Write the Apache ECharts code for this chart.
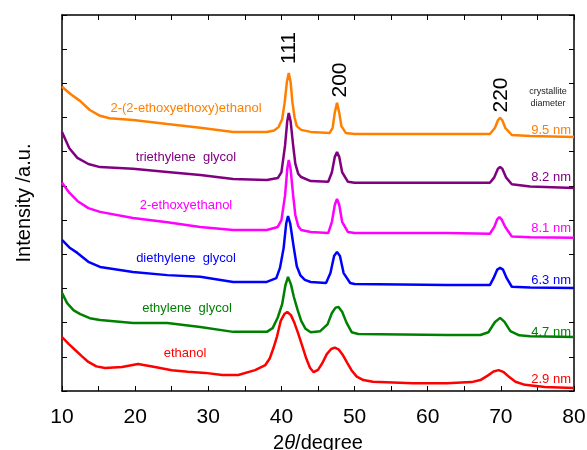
<!DOCTYPE html>
<html>
<head>
<meta charset="utf-8">
<script src="https://cdn.jsdelivr.net/npm/echarts@6/dist/echarts.min.js"></script>
<style>
  html, body { margin: 0; padding: 0; background: #fff; }
  #chart { width: 587px; height: 450px; }
</style>
</head>
<body>
<div id="chart"></div>
<script>
// XRD patterns, [2theta, intensity a.u.] (curves already offset)
const deegee = [
  [10, 890], [11.2, 868], [12.5, 848], [13.8, 822], [15.2, 805], [16.5, 798], [19.7, 793], [24.4, 781], [28.9, 770], [33.4, 758], [38.0, 758],
  [39.0, 762], [39.6, 772], [40.1, 795], [40.45, 845], [40.75, 905], [41.0, 930], [41.25, 905], [41.5, 845], [41.8, 800], [42.1, 775], [42.7, 764], [44.0, 758],
  [46.6, 755], [47.0, 770], [47.3, 815], [47.6, 843], [47.9, 815], [48.2, 775], [48.8, 755], [50.0, 752], [58.0, 752], [65.0, 752],
  [68.5, 752], [69.2, 770], [69.6, 792], [69.9, 799], [70.2, 792], [70.6, 770], [71.5, 749], [74.0, 746], [80, 743]
];
const teg = [
  [10, 758], [11.0, 710], [12.1, 682], [13.6, 664], [15.2, 655], [19.7, 650], [24.4, 641], [28.9, 632], [33.4, 620], [38.0, 617],
  [39.5, 623], [40.0, 640], [40.5, 719], [40.8, 790], [41.0, 813], [41.25, 790], [41.6, 719], [41.9, 665], [42.3, 635], [42.7, 626], [44.0, 614],
  [46.4, 612], [46.9, 640], [47.3, 685], [47.6, 699], [47.9, 685], [48.3, 640], [49.1, 612], [50.0, 609], [62.6, 609], [68.5, 609],
  [69.1, 625], [69.6, 650], [69.9, 655], [70.2, 650], [70.7, 625], [71.5, 605], [74.0, 598], [80, 594]
];
const ethoxyethanol = [
  [10, 609], [11.0, 580], [12.1, 556], [13.6, 535], [15.2, 524], [19.7, 506], [24.4, 494], [28.9, 480], [33.4, 471], [38.0, 471],
  [39.5, 480], [40.0, 500], [40.5, 573], [40.8, 650], [41.0, 676], [41.25, 650], [41.6, 573], [41.9, 515], [42.3, 482], [42.7, 471], [44.0, 465],
  [46.4, 462], [46.9, 495], [47.3, 545], [47.6, 562], [47.9, 545], [48.3, 495], [49.1, 465], [50.0, 462], [62.6, 462], [68.5, 460],
  [69.1, 480], [69.5, 502], [69.8, 509], [70.1, 502], [70.6, 480], [71.5, 452], [74.0, 450], [80, 448]
];
const deg = [
  [10, 442], [11.0, 420], [12.1, 404], [13.6, 378], [15.2, 363], [19.7, 348], [24.4, 339], [28.9, 334], [33.4, 319], [38.0, 319],
  [39.3, 330], [39.8, 360], [40.3, 418], [40.65, 490], [40.9, 512], [41.2, 490], [41.7, 418], [42.1, 365], [42.6, 338], [43.2, 325], [44.0, 319], [46.1, 316],
  [46.7, 345], [47.2, 395], [47.6, 407], [48.0, 395], [48.5, 345], [49.4, 316], [50.0, 313], [62.6, 310], [68.5, 310], [69.0, 330],
  [69.5, 355], [69.9, 360], [70.3, 355], [70.8, 330], [71.5, 305], [74.0, 303], [80, 301]
];
const eg = [
  [10, 287], [10.7, 257], [11.6, 236], [12.5, 225], [13.8, 213], [15.2, 208], [19.7, 199], [24.4, 199], [28.9, 187], [33.4, 173],
  [38.0, 173], [38.8, 184], [39.5, 215], [40.1, 254], [40.55, 310], [40.9, 334], [41.3, 312], [41.7, 275], [42.2, 238], [42.7, 205],
  [43.3, 182], [44.0, 172], [45.3, 175], [46.3, 195], [46.9, 228], [47.4, 244], [47.8, 246], [48.3, 232], [48.9, 200], [49.6, 172],
  [50.5, 167], [62.6, 164], [67.2, 164], [68.3, 172], [69.2, 202], [69.9, 214], [70.5, 202], [71.3, 175], [72.5, 163], [74.0, 160], [80, 158]
];
const ethanol = [
  [10, 158], [10.9, 138], [11.8, 120], [12.7, 102], [13.6, 85], [14.7, 72], [15.9, 67], [18.2, 70], [20.4, 79], [22.7, 70], [25.0, 61],
  [27.2, 56], [29.6, 53], [31.9, 47], [34.1, 47], [36.4, 61], [37.8, 76], [38.4, 95], [38.9, 125], [39.4, 160],
  [39.9, 205], [40.4, 225], [40.8, 231], [41.3, 222], [41.8, 198], [42.3, 168], [42.8, 135], [43.4, 95], [43.9, 68], [44.4, 55],
  [45.0, 62], [45.6, 82], [46.2, 108], [46.8, 123], [47.3, 127], [47.8, 122], [48.4, 105], [49.0, 82], [49.6, 60], [50.3, 42], [51.2, 32], [52.5, 27],
  [58.0, 23], [62.6, 23], [66.0, 26], [67.2, 32], [68.2, 45], [69.0, 57], [69.7, 61], [70.4, 55], [71.2, 40], [72.0, 27],
  [73.3, 18], [76.0, 12], [80, 9]
];

const curves = [deegee, teg, ethoxyethanol, deg, eg, ethanol];
const sampleNames = ['2-(2-ethoxyethoxy)ethanol', 'triethylene  glycol', '2-ethoxyethanol',
  'diethylene  glycol', 'ethylene  glycol', 'ethanol'];
const sizes = ['9.5 nm', '8.2 nm', '8.1 nm', '6.3 nm', '4.7 nm', '2.9 nm'];
const colors = ['#FF8000', '#800080', '#FF00FF', '#0000FF', '#008000', '#FF0000'];
const planes = ['111', '200', '220'];

const font = '"Liberation Sans", Arial, sans-serif';

// label placement (pixels)
const nameXY = [[186, 108], [186, 157], [186, 205], [186, 258], [187, 308], [185, 353]];
const sizeY = [130, 177, 228, 280, 332, 379];
const planeXY = [[289, 48], [340, 80], [501, 95]];

const chart = echarts.init(document.getElementById('chart'));

const graphic = [];
sampleNames.forEach((n, i) => {
  graphic.push({
    type: 'text', x: nameXY[i][0], y: nameXY[i][1],
    style: { text: n, fill: colors[i], font: '13px ' + font, align: 'center', verticalAlign: 'middle' }
  });
  graphic.push({
    type: 'text', x: 571, y: sizeY[i],
    style: { text: sizes[i], fill: colors[i], font: '13px ' + font, align: 'right', verticalAlign: 'middle' }
  });
});
planes.forEach((p, i) => {
  graphic.push({
    type: 'text', x: planeXY[i][0], y: planeXY[i][1], rotation: Math.PI / 2,
    style: { text: p, fill: '#000', font: '21px ' + font, align: 'center', verticalAlign: 'middle' }
  });
});
graphic.push({
  type: 'text', x: 548, y: 98,
  style: { text: 'crystallite\ndiameter', fill: '#222', font: '9px ' + font, align: 'center', verticalAlign: 'middle', lineHeight: 12 }
});

const axisLine = { show: true, onZero: false, lineStyle: { color: '#000', width: 1.5 } };
const tick = { show: true, inside: true, length: 5, lineStyle: { color: '#000', width: 1 } };

const option = {
  backgroundColor: '#fff',
  animation: false,
  grid: { left: 62, right: 13, top: 15, bottom: 59, outerBoundsMode: 'none', containLabel: false },
  xAxis: [
    {
      type: 'value', min: 10, max: 80, interval: 5, position: 'bottom',
      axisLine, axisTick: tick, splitLine: { show: false },
      axisLabel: {
        color: '#000', fontSize: 21, fontFamily: font, margin: 16,
        formatter: v => (v % 10 === 0 ? String(v) : '')
      },
      name: '{n|2}{t|θ}{n|/degree}', nameLocation: 'middle', nameGap: 42,
      nameTextStyle: {
        rich: {
          n: { fontSize: 20, fontFamily: font, color: '#000' },
          t: { fontSize: 20, fontFamily: font, fontStyle: 'italic', color: '#000' }
        }
      }
    },
    {
      type: 'value', min: 10, max: 80, interval: 5, position: 'top',
      axisLine, axisTick: tick, axisLabel: { show: false }, splitLine: { show: false }
    }
  ],
  yAxis: [
    {
      type: 'value', min: 0, max: 1100, interval: 100, position: 'left',
      axisLine, axisTick: tick, axisLabel: { show: false }, splitLine: { show: false },
      name: 'Intensity /a.u.', nameLocation: 'middle', nameGap: 28,
      nameTextStyle: { fontSize: 20, fontFamily: font, color: '#000' }
    },
    {
      type: 'value', min: 0, max: 1100, interval: 100, position: 'right',
      axisLine, axisTick: tick, axisLabel: { show: false }, splitLine: { show: false }
    }
  ],
  series: curves.map((d, i) => ({
    type: 'line', data: d, showSymbol: false, symbol: 'none',
    lineStyle: { color: colors[i], width: 2.5 }, z: 10 - i
  })),
  graphic
};
chart.setOption(option);
</script>
</body>
</html>
